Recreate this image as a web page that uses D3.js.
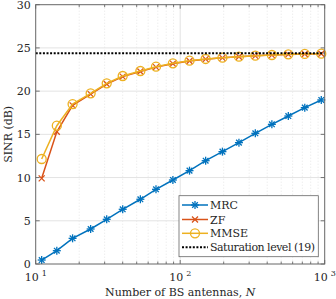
<!DOCTYPE html>
<html><head><meta charset="utf-8">
<script src="https://cdn.jsdelivr.net/npm/d3@7"></script>
<style>body{margin:0;background:#fff}svg{display:block}</style>
</head><body><svg id="c" width="336" height="299" font-family="'DejaVu Serif', 'Liberation Serif', 'Times New Roman', serif"></svg>
<script>
const antennas = [11,14,18,24,31,40,53,68,89,116,150,196,255,331,431,560,728,947];
const mrc  = [0.46,1.54,2.97,4.05,5.17,6.33,7.49,8.64,9.72,10.8,11.95,13.0,14.04,15.12,16.16,17.12,18.09,18.98];
const zf   = [9.91,15.3,18.35,19.65,20.82,21.68,22.27,22.78,23.18,23.49,23.7,23.85,23.97,24.08,24.17,24.25,24.29,24.32];
const mmse = [12.15,16.0,18.5,19.75,20.9,21.75,22.33,22.83,23.22,23.52,23.72,23.87,23.99,24.1,24.18,24.26,24.3,24.33];
const saturation = 24.38;
const xTicks = [10,100,1000];
const yTicks = [0,5,10,15,20,25,30];
const legendLabels = ["MRC","ZF","MMSE","Saturation level (19)"];
const colors = ["#0072BD","#D95319","#EDB120","#000000"];

const svg = d3.select("#c");
const L=35.7,R=324.7,T=4.7,B=264;
const x = d3.scaleLog().domain([10,1000]).range([L,R]);
const y = d3.scaleLinear().domain([0,30]).range([B,T]);
const minor = [];
for (const d of [10,100]) for (let k=2;k<=9;k++) minor.push(d*k);

const g = svg.append("g");
g.selectAll(".hg").data(yTicks.slice(1,-1)).enter().append("line")
 .attr("x1",L).attr("x2",R).attr("y1",d=>y(d)).attr("y2",d=>y(d))
 .attr("stroke","#e3e3e3").attr("stroke-width",1);
g.selectAll(".vg").data(xTicks.slice(1,-1)).enter().append("line")
 .attr("y1",T).attr("y2",B).attr("x1",d=>x(d)).attr("x2",d=>x(d))
 .attr("stroke","#e3e3e3").attr("stroke-width",1);
g.selectAll(".vmg").data(minor).enter().append("line")
 .attr("y1",T).attr("y2",B).attr("x1",d=>x(d)).attr("x2",d=>x(d))
 .attr("stroke","#e6e6e6").attr("stroke-width",1).attr("stroke-dasharray","1,2");

const tk = svg.append("g").attr("stroke","#555").attr("stroke-width",0.8);
yTicks.forEach(v=>{
  tk.append("line").attr("x1",L).attr("x2",L+4).attr("y1",y(v)).attr("y2",y(v));
  tk.append("line").attr("x1",R).attr("x2",R-4).attr("y1",y(v)).attr("y2",y(v));
});
xTicks.forEach(v=>{
  tk.append("line").attr("x1",x(v)).attr("x2",x(v)).attr("y1",B).attr("y2",B-4);
  tk.append("line").attr("x1",x(v)).attr("x2",x(v)).attr("y1",T).attr("y2",T+4);
});
minor.forEach(v=>{
  tk.append("line").attr("x1",x(v)).attr("x2",x(v)).attr("y1",B).attr("y2",B-2.5);
  tk.append("line").attr("x1",x(v)).attr("x2",x(v)).attr("y1",T).attr("y2",T+2.5);
});

const line = d3.line().x(d=>x(d[0])).y(d=>y(d[1]));
function series(vals, color){
  const pts = antennas.map((n,i)=>[n,vals[i]]);
  svg.append("path").attr("d",line(pts)).attr("fill","none").attr("stroke",color).attr("stroke-width",1.5);
  return pts;
}
function star(gs, cx, cy, s, color){
  [0,45,90,135].forEach(t=>{const r=t*Math.PI/180;
    gs.append("line").attr("x1",cx-s*Math.cos(r)).attr("y1",cy-s*Math.sin(r))
      .attr("x2",cx+s*Math.cos(r)).attr("y2",cy+s*Math.sin(r)).attr("stroke",color).attr("stroke-width",1.3);});
}
function cross(gs,cx,cy,s,color){
  gs.append("line").attr("x1",cx-s).attr("y1",cy-s).attr("x2",cx+s).attr("y2",cy+s).attr("stroke",color).attr("stroke-width",1.3);
  gs.append("line").attr("x1",cx-s).attr("y1",cy+s).attr("x2",cx+s).attr("y2",cy-s).attr("stroke",color).attr("stroke-width",1.3);
}
const pM = series(mrc, colors[0]);
const gm = svg.append("g"); pM.forEach(p=>star(gm,x(p[0]),y(p[1]),4,colors[0]));
const pZ = series(zf, colors[1]);
const gz = svg.append("g"); pZ.forEach(p=>cross(gz,x(p[0]),y(p[1]),3,colors[1]));
const pS = series(mmse, colors[2]);
svg.append("g").selectAll("circle").data(pS).enter().append("circle")
 .attr("cx",d=>x(d[0])).attr("cy",d=>y(d[1])).attr("r",4.5)
 .attr("fill","none").attr("stroke",colors[2]).attr("stroke-width",1.3);
svg.append("line").attr("x1",L).attr("x2",R).attr("y1",y(saturation)).attr("y2",y(saturation))
 .attr("stroke","#000").attr("stroke-width",2).attr("stroke-dasharray","2,1.6");

svg.append("rect").attr("x",L).attr("y",T).attr("width",R-L).attr("height",B-T)
 .attr("fill","none").attr("stroke","#666").attr("stroke-width",1);

const txtFill = "#262626";
yTicks.forEach(v=>{
  svg.append("text").attr("x",L-5).attr("y",y(v)+4).attr("text-anchor","end")
   .attr("font-size",11).attr("fill",txtFill).text(v);
});
xTicks.forEach(v=>{
  const t = svg.append("text").attr("x",x(v)).attr("y",281).attr("text-anchor","middle").attr("font-size",11).attr("fill",txtFill);
  t.append("tspan").text("10");
  t.append("tspan").attr("dx",3).attr("dy",-5).attr("font-size",8).text(Math.round(Math.log10(v)));
});
const xl = svg.append("text").attr("x",(L+R)/2).attr("y",296).attr("text-anchor","middle").attr("font-size",11).attr("fill",txtFill);
xl.append("tspan").text("Number of BS antennas, ");
xl.append("tspan").attr("font-style","italic").text("N");
svg.append("text").attr("transform",`translate(12,${(T+B)/2}) rotate(-90)`).attr("text-anchor","middle")
 .attr("font-size",11).attr("fill",txtFill).text("SINR (dB)");

const lg = svg.append("g");
lg.append("rect").attr("x",179).attr("y",195.7).attr("width",139.3).attr("height",61)
 .attr("fill","#fff").attr("stroke","#666").attr("stroke-width",0.8);
const ly = [205,219.5,233.3,247.3];
legendLabels.forEach((lab,i)=>{
  const yy = ly[i];
  const ln = lg.append("line").attr("x1",182).attr("x2",208).attr("y1",yy).attr("y2",yy)
    .attr("stroke",colors[i]).attr("stroke-width",i===3?2:1.5);
  if(i===3) ln.attr("stroke-dasharray","2,1.6");
  if(i===0) star(lg,195,yy,4,colors[0]);
  if(i===1) cross(lg,195,yy,3,colors[1]);
  if(i===2) lg.append("circle").attr("cx",195).attr("cy",yy).attr("r",4.5).attr("fill","none").attr("stroke",colors[2]).attr("stroke-width",1.3);
  lg.append("text").attr("x",210).attr("y",yy+4).attr("font-size",11).attr("fill",txtFill)
    .attr("textLength",i===3?105:null).text(lab);
});
</script></body></html>
